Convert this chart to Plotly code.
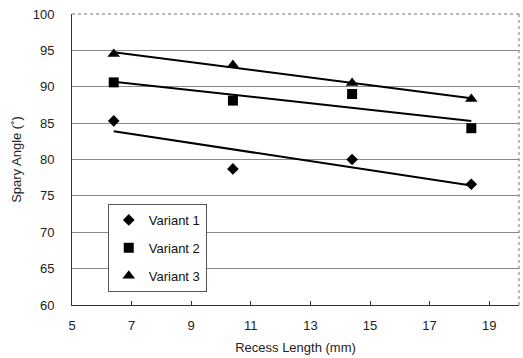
import numpy as np
import plotly.graph_objects as go

# Recess length (mm) and measured spray angle (deg) for three nozzle variants
recess_length = [6.4, 10.4, 14.4, 18.4]
variant_1 = [85.3, 78.7, 80.0, 76.6]
variant_2 = [90.6, 88.1, 89.0, 84.3]
variant_3 = [94.5, 93.0, 90.5, 88.3]

series_names = ["Variant 1", "Variant 2", "Variant 3"]
series_values = [variant_1, variant_2, variant_3]
series_symbols = ["diamond", "square", "triangle-up"]
series_sizes = [9, 10, 11]

x_ticks = [5, 7, 9, 11, 13, 15, 17, 19]
y_ticks = [60, 65, 70, 75, 80, 85, 90, 95, 100]

fig = go.Figure()

x_arr = np.array(recess_length)
for name, vals in zip(series_names, series_values):
    # least-squares linear trend over the measured range
    slope, intercept = np.polyfit(x_arr, np.array(vals), 1)
    xs = [x_arr.min(), x_arr.max()]
    fig.add_trace(go.Scatter(
        x=xs, y=[slope * v + intercept for v in xs],
        mode="lines", line=dict(color="black", width=2),
        showlegend=False, hoverinfo="skip",
    ))

for i, (name, vals, sym, size) in enumerate(zip(series_names, series_values, series_symbols, series_sizes)):
    fig.add_trace(go.Scatter(
        x=recess_length, y=vals, mode="markers", name=name,
        legendgroup=f"g{i}",
        marker=dict(symbol=sym, size=size, color="black"),
    ))

font = "Liberation Sans, Arial, sans-serif"

fig.update_layout(
    width=523, height=358,
    margin=dict(l=72, r=4, t=14, b=53),
    paper_bgcolor="white", plot_bgcolor="white",
    font=dict(family=font, size=13, color="#222"),
    xaxis=dict(
        range=[5, 20], tickvals=x_ticks, showgrid=False, zeroline=False,
        showline=True, linecolor="#333", linewidth=1, mirror=False,
        ticks="inside", ticklen=4, tickcolor="#333", ticklabelstandoff=8,
        title=dict(text="Recess Length (mm)", standoff=11, font=dict(size=13)),
        tickfont=dict(size=13),
    ),
    yaxis=dict(
        range=[60, 100], tickvals=y_ticks, showgrid=True, gridcolor="#8a8a8a",
        gridwidth=1, zeroline=False,
        showline=True, linecolor="#333", linewidth=1,
        ticks="", ticklabelstandoff=14,
        title=dict(text="Spary Angle (˚)", standoff=8, font=dict(size=13)),
        tickfont=dict(size=13),
    ),
    legend=dict(
        x=0.08, y=0.347, xanchor="left", yanchor="top",
        bgcolor="white", bordercolor="#555", borderwidth=1,
        font=dict(size=13, color="#111"), tracegroupgap=8,
        itemwidth=30,
    ),
    showlegend=True,
)

# light border along the top and right edges of the plotting area
fig.add_shape(type="line", xref="paper", yref="paper", x0=0, x1=1, y0=1, y1=1,
              line=dict(color="#777", width=1, dash="dot"))
fig.add_shape(type="line", xref="paper", yref="paper", x0=1, x1=1, y0=0, y1=1,
              line=dict(color="#777", width=1, dash="dot"))

fig.write_html("out.html")
